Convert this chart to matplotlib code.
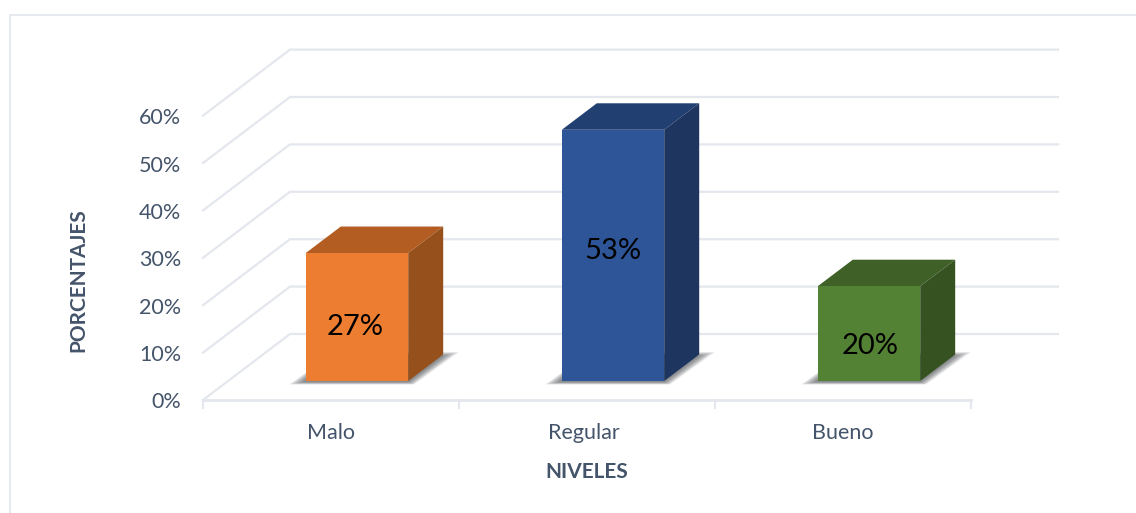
import matplotlib
matplotlib.use("Agg")
import matplotlib.pyplot as plt
from matplotlib.lines import Line2D

plt.rcParams['font.family'] = ['Lato', 'DejaVu Sans']

niveles = ["Malo", "Regular", "Bueno"]
porcentajes = [27, 53, 20]
yticks = [0, 10, 20, 30, 40, 50, 60]
front_colors = ["#ED7D31", "#2E5597", "#548235"]
top_colors = ["#B45D22", "#223F72", "#3F6127"]
side_colors = ["#96501C", "#1E355F", "#355220"]
label_shift = [-2.1, 0.9, -2.6]
label_xshift = [-2, 0, 1]
cat_shift = [0, -3, 0]

W, H = 1136, 513
GRID = "#E4E7ED"
TXT = "#44546A"

# pixels per data unit on the front plane
XU = 256.0
YU = 47.4 / 10

def dx(p):
    return p / XU

def dy(p):
    return p / YU

def mix(a, b, t):
    return a + (b - a) * t

fig = plt.figure(figsize=(W / 100, H / 100), dpi=100)
ax = fig.add_axes([203 / W, 1 - 400 / H, 768 / W, 284.4 / H])
ax.set_xlim(0, 3)
ax.set_ylim(0, 60)
ax.axis("off")

# outer frame of the chart
fig.add_artist(Line2D([9.5 / W, 9.5 / W, 1], [0, 1 - 14.5 / H, 1 - 14.5 / H],
                      color=GRID, lw=1.3, transform=fig.transFigure))

# 3d walls: diagonal on the side wall then the line on the back wall
back_x = dx(87)
back_y = dy(66)
for v in yticks:
    ax.plot([0, back_x, 3 + back_x], [v, v + back_y, v + back_y], color=GRID, lw=1.6,
            clip_on=False, solid_joinstyle="miter", zorder=1)

# bottom axis with ticks
ax.plot([0, 3], [0, 0], color=GRID, lw=2, clip_on=False, zorder=1)
for i in range(4):
    ax.plot([i, i], [0, -dy(8)], color=GRID, lw=1.5, clip_on=False, zorder=1)

# bars
bar_w = 0.4
shift_x = dx(26)
shift_y = dy(19)
depth_x = dx(35)
depth_y = dy(26.5)
for i, v in enumerate(porcentajes):
    x0 = i + 0.5 + shift_x - bar_w / 2
    x1 = x0 + bar_w
    y0 = shift_y
    y1 = shift_y + v

    # soft floor shadow, stacked layers going from the wide edge in to the bar
    n = 14
    for k in range(n):
        t = k / (n - 1)
        ax.fill([x0 - dx(mix(17, 2, t)), x1 + dx(mix(6, 0, t)),
                 x1 + dx(mix(51, 35, t)), x0 + dx(mix(29, 24, t))],
                [y0 - dy(mix(3.5, 1, t)), y0 - dy(mix(3.5, 1, t)),
                 y0 + dy(mix(29, 25, t)), y0 + dy(mix(29, 25, t))],
                color="#3A3E44", alpha=0.06, lw=0, clip_on=False, zorder=2)

    ax.bar(i + 0.5 + shift_x, v, width=bar_w, bottom=y0, color=front_colors[i], lw=0,
           clip_on=False, zorder=4)
    ax.fill([x0, x1, x1 + depth_x, x0 + depth_x], [y1, y1, y1 + depth_y, y1 + depth_y],
            color=top_colors[i], lw=0, clip_on=False, zorder=3)
    ax.fill([x1, x1 + depth_x, x1 + depth_x, x1], [y0, y0 + depth_y, y1 + depth_y, y1],
            color=side_colors[i], lw=0, clip_on=False, zorder=3)
    ax.text(i + 0.5 + shift_x + dx(label_xshift[i]), y0 + v / 2 + label_shift[i], str(v) + "%",
            ha="center", va="center", fontsize=21, color="black", zorder=5)

for v in yticks:
    ax.text(-dx(22), v - dy(2.5), str(v) + "%", ha="right", va="center", fontsize=15.5, color=TXT)

for i, n in enumerate(niveles):
    ax.text(i + 0.5 + dx(cat_shift[i]), -dy(33), n, ha="center", va="center",
            fontsize=15.5, color=TXT)

fig.text(587 / W, 1 - 472 / H, "NIVELES", ha="center", va="center", fontsize=15,
         fontweight="bold", color=TXT)
fig.text(78 / W, 1 - 280 / H, "PORCENTAJES", ha="center", va="center", rotation=90,
         fontsize=15, fontweight="bold", color=TXT)

fig.savefig("out.png", dpi=100)
